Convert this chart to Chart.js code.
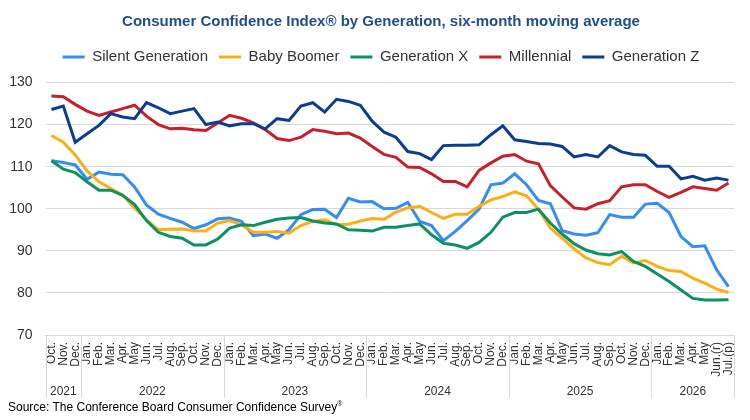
<!DOCTYPE html>
<html>
<head>
<meta charset="utf-8">
<script src="https://cdn.jsdelivr.net/npm/chart.js@4/dist/chart.umd.min.js"></script>
<style>
  html, body { margin: 0; padding: 0; background: #fff; }
  #wrap { position: relative; width: 750px; height: 420px; }
  #src { position: absolute; left: 8px; top: 400px; font: 12px 'Liberation Sans', Arial, sans-serif; color: #000; white-space: nowrap; }
  #src sup { font-size: 7px; vertical-align: 5px; }
</style>
</head>
<body>
<div id="wrap">
  <canvas id="c" width="750" height="420"></canvas>
  <div id="src">Source: The Conference Board Consumer Confidence Survey<sup>®</sup></div>
</div>
<script>
const titleText = 'Consumer Confidence Index® by Generation, six-month moving average';

const monthLabels = [
  'Oct.','Nov.','Dec.',
  'Jan.','Feb.','Mar.','Apr.','May','Jun.','Jul.','Aug.','Sep.','Oct.','Nov.','Dec.',
  'Jan.','Feb.','Mar.','Apr.','May','Jun.','Jul.','Aug.','Sep.','Oct.','Nov.','Dec.',
  'Jan.','Feb.','Mar.','Apr.','May','Jun.','Jul.','Aug.','Sep.','Oct.','Nov.','Dec.',
  'Jan.','Feb.','Mar.','Apr.','May','Jun.','Jul.','Aug.','Sep.','Oct.','Nov.','Dec.',
  'Jan.','Feb.','Mar.','Apr.','May','Jun.(r)','Jul.(p)'
];
const years = ['2021','2022','2023','2024','2025','2026'];
const monthsPerYear = [3, 12, 12, 12, 12, 7];

const seriesNames = ['Silent Generation','Baby Boomer','Generation X','Millennial','Generation Z'];
const seriesColors = ['#338DF5','#FBAF17','#0E9160','#C5202C','#0B3D91'];

const silent = [111.4,111.0,110.4,107.0,108.7,108.2,108.1,105.2,100.9,98.7,97.7,96.8,95.3,96.2,97.6,
  97.8,97.0,93.6,94.0,93.0,95.0,98.6,99.8,99.9,97.9,102.5,101.6,
  101.7,100.0,100.1,101.5,97.0,96.0,92.4,94.6,97.2,99.9,105.7,106.1,
  108.3,105.7,102.0,101.2,94.8,94.0,93.7,94.3,98.6,98.0,98.0,101.1,
  101.3,99.1,93.4,91.0,91.2,85.5,81.5];
const boomer = [117.4,115.8,112.8,109.0,106.4,104.8,103.2,100.2,97.4,95.0,95.1,95.2,94.8,94.7,96.6,
  97.2,96.2,94.4,94.4,94.6,94.2,96.0,97.0,97.4,96.2,96.3,97.1,
  97.7,97.5,99.2,100.2,100.6,99.1,97.7,98.7,98.7,100.6,102.1,102.9,
  104.0,103.1,99.9,95.4,93.0,90.5,88.3,87.2,86.7,88.7,87.1,87.7,
  86.3,85.3,85.1,83.5,82.3,80.9,80.1];
const genX = [111.4,109.4,108.6,106.4,104.4,104.4,103.2,101.0,97.2,94.4,93.4,93.0,91.4,91.4,92.8,
  95.4,96.2,96.0,96.8,97.5,97.8,97.9,97.1,96.6,96.4,95.0,94.9,
  94.7,95.6,95.6,96.0,96.4,93.8,91.8,91.4,90.6,92.0,94.4,98.0,
  99.1,99.1,99.9,96.6,94.0,91.7,90.2,89.3,89.0,89.8,87.5,86.3,
  84.5,82.7,80.7,78.7,78.3,78.3,78.4];
const millennial = [126.8,126.6,124.8,123.2,122.2,123.0,123.8,124.6,122.0,120.0,119.0,119.1,118.8,118.6,120.4,
  122.2,121.5,120.4,118.8,116.7,116.2,117.0,118.8,118.4,117.8,118.0,116.8,
  114.8,112.9,112.2,109.9,109.8,108.3,106.5,106.5,105.2,109.1,110.9,112.5,
  112.9,111.3,110.7,105.5,102.8,100.2,99.9,101.2,101.9,105.2,105.7,105.7,
  104.1,102.7,103.9,105.2,104.8,104.4,106.1];
const genZ = [123.6,124.4,115.8,117.8,119.8,122.6,121.8,121.4,125.2,124.0,122.6,123.2,123.8,120.0,120.6,
  119.7,120.2,120.2,119.0,121.4,121.0,124.4,125.2,123.0,126.0,125.5,124.6,
  120.8,118.2,117.0,113.6,113.1,111.7,115.0,115.1,115.1,115.2,117.6,119.7,
  116.4,116.0,115.5,115.4,114.8,112.3,112.9,112.3,115.0,113.5,112.9,112.7,
  110.1,110.1,107.1,107.7,106.8,107.3,106.8];

const yMin = 70, yMax = 130, yStep = 10;

const seriesValues = [silent, boomer, genX, millennial, genZ];

Chart.defaults.font.family = "'Liberation Sans', Arial, sans-serif";
Chart.defaults.color = '#333';

// shift title/legend centring slightly right, as in the reference
const headerShiftPlugin = {
  id: 'headerShift',
  afterLayout(chart) {
    if (chart.titleBlock) chart.titleBlock.left += 20;
    if (chart.legend) chart.legend.left += 20;
  }
};

const yearAxisPlugin = {
  id: 'yearAxis',
  afterDraw(chart) {
    const ctx = chart.ctx;
    const x = chart.scales.x;
    const area = chart.chartArea;
    const n = monthLabels.length;
    const boundary = (k) => {
      if (k <= 0) return area.left;
      if (k >= n) return area.right;
      return (x.getPixelForValue(k - 1) + x.getPixelForValue(k)) / 2;
    };
    ctx.save();
    ctx.strokeStyle = '#d9d9d9';
    ctx.lineWidth = 1;
    let start = 0;
    const bounds = [0];
    monthsPerYear.forEach(c => { start += c; bounds.push(start); });
    bounds.forEach(k => {
      const px = Math.round(boundary(k)) + 0.5;
      ctx.beginPath();
      ctx.moveTo(px, area.bottom);
      ctx.lineTo(px, area.bottom + 63);
      ctx.stroke();
    });
    ctx.fillStyle = '#333';
    ctx.font = "12px 'Liberation Sans', Arial, sans-serif";
    ctx.textAlign = 'center';
    ctx.textBaseline = 'middle';
    years.forEach((yr, i) => {
      const l = boundary(bounds[i]);
      const r = boundary(bounds[i + 1]);
      ctx.fillText(yr, (l + r) / 2, area.bottom + 57);
    });
    ctx.restore();
  }
};

new Chart(document.getElementById('c'), {
  type: 'line',
  data: {
    labels: monthLabels,
    datasets: seriesNames.map((name, i) => ({
      label: name,
      data: seriesValues[i],
      borderColor: seriesColors[i],
      backgroundColor: seriesColors[i],
      borderWidth: 3,
      pointRadius: 0,
      pointHoverRadius: 0,
      tension: 0,
      fill: false,
      order: seriesNames.length - i
    }))
  },
  options: {
    responsive: false,
    animation: false,
    devicePixelRatio: 1,
    layout: { padding: { left: 4, right: 12, top: 0, bottom: 0 } },
    plugins: {
      title: {
        display: true,
        text: titleText,
        color: '#1F4E8C',
        font: { size: 15, weight: 'bold' },
        padding: { top: 13, bottom: 7.5 }
      },
      legend: {
        display: true,
        position: 'top',
        reverse: true,
        labels: {
          boxWidth: 22,
          boxHeight: 3,
          padding: 11,
          color: '#333',
          font: { size: 15 },
          generateLabels(chart) {
            const items = Chart.defaults.plugins.legend.labels.generateLabels(chart);
            return items.map(it => Object.assign(it, { lineWidth: 0, fillStyle: it.strokeStyle, fontColor: '#333' }));
          }
        }
      },
      subtitle: {
        display: true,
        text: '',
        weight: 500,
        font: { size: 1 },
        padding: { top: 0, bottom: 6.8 }
      },
      tooltip: { enabled: false }
    },
    scales: {
      x: {
        type: 'category',
        offset: true,
        grid: { display: false, drawTicks: false },
        border: { display: true, color: '#d9d9d9', width: 1 },
        ticks: {
          autoSkip: false,
          maxRotation: 90,
          minRotation: 90,
          padding: 7,
          color: '#333',
          font: { size: 12 }
        },
        afterFit(scale) { scale.height = 85; }
      },
      y: {
        min: yMin,
        max: yMax,
        grid: { color: '#d9d9d9', lineWidth: 1, drawTicks: false },
        border: { display: false },
        ticks: {
          stepSize: yStep,
          padding: 13,
          color: '#333',
          font: { size: 14 }
        },
        afterFit(scale) { scale.width = 41.5; }
      }
    }
  },
  plugins: [headerShiftPlugin, yearAxisPlugin]
});
</script>
</body>
</html>
